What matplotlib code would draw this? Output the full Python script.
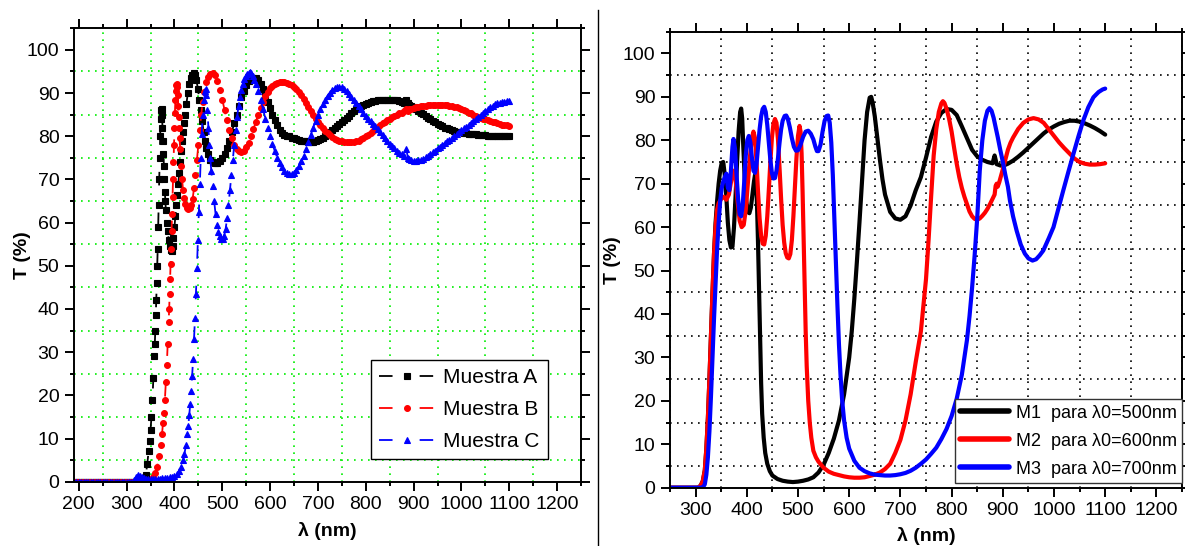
import matplotlib
matplotlib.use("Agg")
import matplotlib.pyplot as plt
from matplotlib.ticker import MultipleLocator
from matplotlib.lines import Line2D

# ---- Transmittance spectra, (wavelength nm, T %) ----
muestra_a = [
    (190, 0), (195, 0), (200, 0), (205, 0), (210, 0), (215, 0), (220, 0), (225, 0), (230, 0), (235, 0),
    (240, 0), (245, 0), (250, 0), (255, 0), (260, 0), (265, 0), (270, 0), (275, 0), (280, 0), (285, 0),
    (290, 0), (295, 0), (300, 0), (305, 0), (310, 0), (315, 0), (320, 0), (325, 0), (330, 0),
    (335, 0.3), (340, 1.5), (343, 4), (346, 7), (348, 9.5),
    (350, 12), (352, 15), (354, 19), (356, 24), (358, 29), (359, 32), (360, 35), (361, 38.5), (362, 42), (363, 46),
    (364, 50), (365, 54), (366, 59), (367, 64), (368, 70), (369, 75), (370, 80), (371, 84), (372, 86), (373, 86.2),
    (374, 85), (375, 82), (376, 79), (377, 76), (378, 73), (379, 70), (380, 67), (381, 65), (382, 63), (384, 60),
    (386, 58), (388, 56), (390, 54.5), (392, 53.6), (394, 53.5), (396, 54.5), (398, 56.5), (400, 59), (402, 61.5),
    (404, 64), (406, 66.5), (408, 69), (410, 71.5), (412, 74), (414, 76.5), (416, 79), (418, 81), (420, 83),
    (422, 85), (425, 87.5), (428, 90), (431, 92), (434, 93.5), (437, 94.3), (440, 94.6), (443, 94.3), (446, 93),
    (449, 91), (452, 88.5), (455, 86), (458, 83.5), (461, 81), (464, 79), (467, 77.3), (470, 76), (475, 74.6),
    (480, 74), (485, 73.7), (490, 73.7), (495, 74.2), (500, 75), (505, 76), (510, 77.3), (515, 79), (520, 81),
    (525, 83), (530, 85), (535, 87), (540, 89), (545, 90.5), (550, 91.8), (555, 92.7), (560, 93.3), (565, 93.6),
    (570, 93.5), (575, 93), (580, 92.2), (585, 91), (590, 89.5), (595, 88), (600, 86.5), (605, 85), (610, 83.7),
    (615, 82.5), (620, 81.5), (625, 80.8), (630, 80.3), (635, 80.1), (640, 80), (645, 79.7), (650, 79.5),
    (655, 79.3), (660, 79.1), (665, 79), (670, 78.9), (675, 78.8), (680, 78.7), (685, 78.7), (690, 78.7),
    (695, 78.9), (700, 79.1), (705, 79.4), (710, 79.7), (715, 80.1), (720, 80.5), (725, 80.9), (730, 81.4),
    (735, 81.9), (740, 82.4), (745, 82.9), (750, 83.4), (755, 83.8), (760, 84.3), (765, 84.8), (770, 85.3),
    (775, 85.8), (780, 86.2), (785, 86.6), (790, 86.9), (795, 87.2), (800, 87.5), (805, 87.7), (810, 87.9),
    (815, 88.1), (820, 88.2), (825, 88.3), (830, 88.4), (835, 88.5), (840, 88.5), (845, 88.5), (850, 88.5),
    (855, 88.5), (860, 88.4), (865, 88.3), (870, 88.1), (875, 87.9), (880, 87.7), (885, 88.4), (888, 87.6),
    (890, 87.3), (895, 87), (900, 86.7), (905, 86.3), (910, 85.9), (915, 85.5), (920, 85.1), (925, 84.7),
    (930, 84.3), (935, 84), (940, 83.6), (945, 83.2), (950, 82.9), (955, 82.6), (960, 82.3), (965, 82),
    (970, 81.8), (975, 81.6), (980, 81.4), (985, 81.2), (990, 81.1), (995, 81), (1000, 80.9), (1005, 80.8),
    (1010, 80.7), (1015, 80.6), (1020, 80.6), (1025, 80.5), (1030, 80.5), (1035, 80.4), (1040, 80.3),
    (1045, 80.2), (1050, 80.2), (1055, 80.1), (1060, 80.1), (1065, 80), (1070, 80), (1075, 80), (1080, 80),
    (1085, 80), (1090, 80), (1095, 80), (1100, 80),
]

muestra_b = [
    (190, 0), (195, 0), (200, 0), (205, 0), (210, 0), (215, 0), (220, 0), (225, 0), (230, 0), (235, 0),
    (240, 0), (245, 0), (250, 0), (255, 0), (260, 0), (265, 0), (270, 0), (275, 0), (280, 0), (285, 0),
    (290, 0), (295, 0), (300, 0), (305, 0), (310, 0), (315, 0), (320, 0), (325, 0), (330, 0), (335, 0),
    (340, 0), (345, 0.2), (350, 0.5), (355, 1), (360, 2),
    (364, 3.5), (368, 6), (371, 8.5), (374, 11), (376, 13.5), (378, 16), (380, 19), (382, 23), (384, 27), (386, 32),
    (388, 37), (389, 40), (390, 43.5), (391, 47), (392, 50.5), (393, 54), (394, 58), (395, 62), (396, 66), (397, 70),
    (398, 74), (399, 78), (400, 82), (401, 85.5), (402, 88.5), (403, 90.5), (404, 91.8), (405, 92), (406, 91.3),
    (407, 89.5), (408, 87), (409, 84.5), (410, 82), (411, 79.5), (412, 77), (414, 73), (416, 70), (418, 67.5),
    (420, 65.8), (423, 64.3), (426, 63.5), (429, 63.2), (432, 63.3), (435, 64), (438, 65.5), (441, 68), (444, 71),
    (447, 74.5), (450, 78), (453, 81.5), (456, 85), (459, 88), (462, 90.3), (466, 92.5), (470, 93.8), (475, 94.5),
    (480, 94.6), (485, 94.2), (490, 92.8), (495, 90.8), (500, 88.5), (505, 86), (510, 83.7), (515, 81.5),
    (520, 79.6), (525, 78), (530, 77), (535, 76.5), (540, 76.4), (545, 76.7), (550, 77.4), (555, 78.5), (560, 80),
    (565, 81.6), (570, 83.3), (575, 85), (580, 86.6), (585, 88), (590, 89.3), (595, 90.3), (600, 91.1),
    (605, 91.7), (610, 92.1), (615, 92.4), (620, 92.5), (625, 92.6), (630, 92.5), (635, 92.4), (640, 92.2),
    (645, 91.9), (650, 91.5), (655, 91), (660, 90.3), (665, 89.5), (670, 88.6), (675, 87.7), (680, 86.8),
    (685, 85.8), (690, 84.9), (695, 84.1), (700, 83.3), (705, 82.6), (710, 81.9), (715, 81.3), (720, 80.7),
    (725, 80.2), (730, 79.8), (735, 79.4), (740, 79.1), (745, 78.9), (750, 78.8), (755, 78.7), (760, 78.6),
    (765, 78.6), (770, 78.6), (775, 78.7), (780, 78.8), (785, 79), (790, 79.3), (795, 79.6), (800, 80),
    (805, 80.4), (810, 80.8), (815, 81.2), (820, 81.7), (825, 82.1), (830, 82.6), (835, 83), (840, 83.4),
    (845, 83.8), (850, 84.1), (855, 84.4), (860, 84.7), (865, 85), (870, 85.3), (875, 85.5), (880, 85.8),
    (885, 86.4), (888, 85.9), (890, 86.2), (895, 86.3), (900, 86.5), (905, 86.7), (910, 86.8), (915, 86.9),
    (920, 87), (925, 87.1), (930, 87.2), (935, 87.2), (940, 87.3), (945, 87.3), (950, 87.3), (955, 87.3),
    (960, 87.3), (965, 87.2), (970, 87.2), (975, 87.1), (980, 87), (985, 86.8), (990, 86.7), (995, 86.5),
    (1000, 86.3), (1005, 86), (1010, 85.8), (1015, 85.5), (1020, 85.3), (1025, 85), (1030, 84.8), (1035, 84.5),
    (1040, 84.3), (1045, 84.1), (1050, 83.9), (1055, 83.7), (1060, 83.5), (1065, 83.3), (1070, 83.2),
    (1075, 83), (1080, 82.9), (1085, 82.7), (1090, 82.6), (1095, 82.5), (1100, 82.4),
]

muestra_c = [
    (190, 0), (195, 0), (200, 0), (205, 0), (210, 0), (215, 0), (220, 0), (225, 0), (230, 0), (235, 0),
    (240, 0), (245, 0), (250, 0), (255, 0), (260, 0), (265, 0), (270, 0), (275, 0), (280, 0), (285, 0),
    (290, 0), (295, 0), (300, 0), (305, 0), (310, 0), (315, 0.3), (320, 1.0), (324, 1.5), (328, 1.4),
    (332, 1.0), (336, 0.8), (340, 0.7), (345, 0.6), (350, 0.6), (355, 0.6), (360, 0.6), (365, 0.65),
    (370, 0.7), (375, 0.75), (380, 0.8), (385, 0.9), (390, 1.0), (395, 1.2), (400, 1.4), (405, 1.8), (410, 2.5),
    (414, 3.5), (418, 5), (421, 6.5), (424, 8.5), (427, 11), (429, 13), (431, 15.5), (433, 18), (435, 21),
    (437, 24.5), (439, 28.5), (441, 33), (443, 38), (445, 43.5), (447, 49.5), (449, 56), (451, 62.5), (453, 69),
    (455, 75), (457, 80.5), (459, 85), (461, 88.5), (463, 90.5), (465, 91), (467, 89.5), (469, 86), (471, 82),
    (473, 78), (475, 75), (477, 72), (480, 68.5), (483, 65), (486, 62), (489, 59.5), (492, 57.8), (495, 56.8),
    (498, 56.3), (501, 56.3), (504, 57), (507, 58.5), (510, 61), (513, 64), (516, 67.5), (519, 71), (522, 74.5),
    (525, 78), (528, 81.5), (531, 84.5), (534, 87), (537, 89), (540, 90.8), (543, 92.2), (546, 93.3), (549, 94),
    (552, 94.5), (555, 94.7), (558, 94.8), (561, 94.7), (564, 94), (567, 93), (570, 92), (575, 90.5), (580, 88.5),
    (585, 86.3), (590, 84), (595, 82), (600, 80), (605, 78.2), (610, 76.5), (615, 75), (620, 73.8), (625, 72.8),
    (630, 72), (635, 71.4), (640, 71.2), (645, 71.3), (650, 71.6), (655, 72.2), (660, 73), (665, 74.2),
    (670, 75.5), (675, 77), (680, 78.6), (685, 80.3), (690, 82), (695, 83.5), (700, 85), (705, 86.3),
    (710, 87.5), (715, 88.5), (720, 89.4), (725, 90.1), (730, 90.7), (735, 91.1), (740, 91.4), (745, 91.5),
    (750, 91.3), (755, 90.9), (760, 90.5), (765, 89.9), (770, 89.2), (775, 88.5), (780, 87.8), (785, 87),
    (790, 86.2), (795, 85.4), (800, 84.6), (805, 84.1), (810, 83.5), (815, 82.9), (820, 82.3), (825, 81.7),
    (830, 81), (835, 80.3), (840, 79.6), (845, 78.9), (850, 78.3), (855, 77.7), (860, 77.2), (865, 76.7),
    (870, 76.2), (875, 75.8), (880, 75.4), (885, 77), (888, 75), (890, 74.7), (895, 74.5), (900, 74.3),
    (905, 74.3), (910, 74.4), (915, 74.6), (920, 74.8), (925, 75.1), (930, 75.5), (935, 75.9), (940, 76.3),
    (945, 76.7), (950, 77.2), (955, 77.6), (960, 78), (965, 78.4), (970, 78.8), (975, 79.2), (980, 79.7),
    (985, 80.1), (990, 80.5), (995, 81), (1000, 81.4), (1005, 81.8), (1010, 82.2), (1015, 82.6), (1020, 83.1),
    (1025, 83.5), (1030, 84), (1035, 84.4), (1040, 84.9), (1045, 85.3), (1050, 85.8), (1055, 86.2),
    (1060, 86.7), (1065, 87.1), (1070, 87.4), (1075, 87.6), (1080, 87.8), (1085, 87.9), (1090, 88),
    (1095, 88.1), (1100, 88.1),
]

m1_500 = [
    (250, 0), (260, 0), (270, 0), (280, 0), (290, 0), (300, 0), (305, 0), (310, 0.5), (314, 1.5), (318, 4),
    (321, 9), (324, 16), (327, 25), (330, 35), (333, 45), (336, 54), (339, 61), (342, 66), (345, 70), (348, 73),
    (351, 74.8), (354, 75), (357, 72), (360, 67), (363, 61), (366, 57), (369, 55.3), (372, 55.5), (375, 60),
    (378, 67), (381, 75), (384, 82), (387, 86.5), (389, 87.3), (391, 85), (393, 79), (396, 71), (399, 66),
    (402, 63.5), (405, 63.2), (408, 64.5), (411, 67.5), (414, 70.5), (416, 72), (418, 71), (420, 65), (422, 56),
    (424, 45), (426, 33), (428, 24), (430, 17), (433, 11.5), (436, 8), (440, 5.5), (445, 3.8), (450, 2.8),
    (460, 2), (470, 1.6), (480, 1.4), (490, 1.3), (500, 1.4), (510, 1.6), (520, 1.9), (530, 2.4), (540, 3.5),
    (550, 5.3), (560, 8), (570, 11.3), (580, 15.5), (590, 21.5), (600, 30), (605, 36), (610, 43.5), (615, 52),
    (620, 61), (625, 70.5), (630, 80), (635, 86.5), (640, 89.8), (643, 90), (646, 88.5), (650, 85.5),
    (655, 80.5), (660, 75.5), (665, 71), (670, 67.5), (680, 63.5), (690, 62), (700, 61.7), (710, 62.5),
    (720, 65), (730, 68.5), (740, 71.5), (750, 76), (760, 80.8), (770, 84.3), (780, 86.3), (790, 87.2),
    (800, 87), (810, 85.8), (820, 83.2), (830, 80.5), (840, 77.8), (850, 76.3), (860, 75.5), (870, 75),
    (880, 74.7), (884, 76.5), (888, 74.5), (895, 74.2), (900, 74.1), (910, 74.6), (920, 75.3), (930, 76.2),
    (940, 77.2), (950, 78.3), (960, 79.4), (970, 80.5), (980, 81.6), (990, 82.5), (1000, 83.2), (1010, 83.8),
    (1020, 84.2), (1030, 84.5), (1040, 84.5), (1050, 84.3), (1060, 83.9), (1070, 83.4), (1080, 82.8),
    (1090, 82.1), (1100, 81.3),
]

m2_600 = [
    (250, 0), (260, 0), (270, 0), (280, 0), (290, 0), (300, 0), (305, 0), (310, 0.5), (314, 1.5), (318, 4),
    (321, 9), (324, 16), (327, 25), (330, 35), (333, 45), (336, 54), (339, 60), (342, 64), (345, 65.5),
    (350, 66.5), (355, 67), (360, 66.3), (365, 67.5), (370, 71), (374, 73), (378, 71), (382, 66), (386, 61.5),
    (390, 60), (394, 60.5), (398, 64), (402, 70), (406, 76), (410, 80.5), (413, 82), (416, 80.5), (419, 75),
    (422, 68), (425, 62), (428, 58), (431, 56.2), (434, 56), (437, 58), (440, 62.5), (443, 68.5), (446, 75),
    (449, 80.5), (452, 83.8), (455, 84.9), (458, 84), (461, 80), (464, 73.5), (467, 66.5), (470, 60.5),
    (473, 56.5), (476, 54), (479, 53), (482, 52.8), (485, 53.8), (488, 57), (491, 62.5), (494, 69.5), (497, 76),
    (500, 81), (503, 83.3), (505, 82), (507, 77), (509, 68), (511, 57), (513, 46), (515, 36), (517, 28),
    (520, 20), (523, 15), (526, 11.5), (530, 8.5), (535, 7), (540, 6), (550, 4.6), (560, 3.7), (570, 3.2),
    (580, 2.9), (590, 2.6), (600, 2.4), (610, 2.3), (620, 2.3), (630, 2.4), (640, 2.7), (650, 3), (660, 3.5),
    (670, 4.3), (680, 5.5), (690, 8), (700, 11), (710, 15.5), (720, 21.5), (730, 29), (740, 36), (745, 42),
    (750, 48), (755, 57), (760, 67), (765, 76.5), (770, 82.5), (775, 86.5), (780, 88.5), (783, 89), (786, 88.6),
    (790, 87.3), (795, 85), (800, 82), (805, 78.2), (810, 74.6), (815, 71.5), (820, 69), (825, 67), (830, 65.3),
    (835, 63.6), (840, 62.5), (845, 61.9), (850, 61.7), (855, 62), (860, 62.6), (865, 63.3), (870, 64.2),
    (875, 65.3), (880, 66.5), (884, 67.5), (886, 69.5), (888, 70), (890, 69.3), (893, 70.3), (897, 72),
    (900, 73.3), (905, 75.6), (910, 77.8), (915, 79.4), (920, 80.6), (930, 82.6), (940, 84), (950, 84.8),
    (960, 85.1), (970, 84.8), (980, 84), (990, 82.5), (1000, 81), (1010, 79.5), (1020, 78.2), (1030, 77),
    (1040, 75.8), (1050, 75), (1060, 74.6), (1070, 74.4), (1080, 74.4), (1090, 74.5), (1100, 74.7),
]

m3_700 = [
    (250, 0), (260, 0), (270, 0), (280, 0), (290, 0), (300, 0), (310, 0), (315, 0.2), (318, 0.8), (321, 3),
    (324, 7), (327, 13), (330, 21), (333, 30), (336, 39), (339, 47), (342, 55), (345, 61), (348, 66), (351, 69),
    (354, 70.5), (357, 71.5), (360, 72.3), (363, 69), (366, 68.5), (369, 73), (372, 78.5), (374, 80.3), (377, 78),
    (380, 72), (383, 66.5), (386, 63), (389, 62.5), (392, 65), (395, 70.5), (398, 76.5), (401, 80), (404, 81),
    (407, 79.5), (410, 76), (413, 73), (416, 72.5), (419, 74.5), (422, 78.5), (425, 82.5), (428, 85.5),
    (431, 87.2), (434, 87.7), (437, 86.5), (440, 83.5), (443, 79.5), (446, 75.5), (449, 72.5), (452, 71.2),
    (455, 71.3), (458, 73), (461, 76), (464, 79.5), (467, 82.5), (470, 84.5), (474, 85.6), (477, 85.7), (480, 85),
    (484, 83), (488, 80.5), (492, 78.5), (496, 77.6), (500, 77.7), (505, 79), (510, 80.8), (515, 82), (520, 82.2),
    (525, 81.5), (530, 80.2), (534, 78.5), (537, 77.5), (540, 77.5), (544, 79), (548, 82), (552, 84.5),
    (556, 85.6), (559, 85.7), (562, 84), (565, 79.5), (568, 72), (571, 62), (574, 52), (577, 42), (580, 33),
    (583, 26), (586, 20.5), (590, 15.5), (595, 11.5), (600, 9), (610, 6.2), (620, 4.6), (630, 3.8), (640, 3.3),
    (650, 3), (660, 2.9), (670, 2.8), (680, 2.8), (690, 2.9), (700, 3.1), (710, 3.4), (720, 3.9), (730, 4.6),
    (740, 5.5), (750, 6.5), (760, 7.8), (770, 9.2), (780, 11.2), (790, 13.5), (800, 16.5), (810, 20.5),
    (820, 26), (830, 34), (835, 39.5), (840, 46), (845, 53.5), (850, 62), (855, 73), (860, 80), (865, 84.5),
    (870, 86.8), (874, 87.4), (878, 86.8), (882, 85.2), (886, 83), (890, 80.8), (895, 77.8), (900, 75.1),
    (905, 72), (910, 69.3), (914, 66.1), (920, 62.5), (927, 59.2), (935, 56), (943, 53.9), (950, 52.8),
    (958, 52.3), (965, 52.6), (972, 53.5), (979, 54.6), (990, 57.5), (999, 60), (1008, 64), (1018, 68.4),
    (1028, 72.7), (1038, 76.9), (1048, 81), (1057, 84.5), (1067, 87.6), (1077, 89.9), (1087, 91.1),
    (1095, 91.7), (1100, 91.9),
]

left_labels = ["Muestra A", "Muestra B", "Muestra C"]
right_labels = ["M1  para λ0=500nm", "M2  para λ0=600nm", "M3  para λ0=700nm"]
x_label = "λ (nm)"
y_label = "T (%)"

FONT = ["Liberation Sans", "DejaVu Sans"]
plt.rcParams["font.family"] = FONT

W, H = 1185, 546
fig = plt.figure(figsize=(W / 100, H / 100), dpi=100)
fig.patch.set_facecolor("white")

ax1 = fig.add_axes([74 / W, (H - 481.7) / H, 507 / W, 453.4 / H])
ax2 = fig.add_axes([670 / W, (H - 487.7) / H, 512 / W, 456 / H])


def style_axes(ax, xlim, grid_color):
    ax.set_xlim(*xlim)
    ax.set_ylim(0, 105)
    ax.xaxis.set_major_locator(MultipleLocator(100))
    ax.xaxis.set_minor_locator(MultipleLocator(50))
    ax.yaxis.set_major_locator(MultipleLocator(10))
    ax.yaxis.set_minor_locator(MultipleLocator(5))
    ax.tick_params(which="both", direction="out", top=True, right=True,
                   width=1.4, labelsize=14, pad=4, colors="black")
    ax.tick_params(which="major", length=6.5)
    ax.tick_params(which="minor", length=3)
    ax.grid(which="minor", color=grid_color, ls=(0, (1, 3.2)), lw=1.2)
    ax.set_axisbelow(True)
    for s in ax.spines.values():
        s.set_linewidth(1.4)


style_axes(ax1, (190, 1250), "#00ee00")
style_axes(ax2, (250, 1250), "black")

# left panel: measured curves with markers
dash = (0, (7.5, 15))
for series, color, marker, ms, lab in [
    (muestra_a, "black", "s", 3.8, left_labels[0]),
    (muestra_b, "red", "o", 4.2, left_labels[1]),
    (muestra_c, "blue", "^", 4.6, left_labels[2]),
]:
    wl = [p[0] for p in series]
    t = [p[1] for p in series]
    ax1.plot(wl, t, color=color, ls=dash, lw=1.3, marker=marker, ms=ms,
             mec=color, mfc=color, mew=0.8, label=lab)

# right panel: simulated multilayer spectra
for series, color, lab in [
    (m1_500, "black", right_labels[0]),
    (m2_600, "red", right_labels[1]),
    (m3_700, "blue", right_labels[2]),
]:
    wl = [p[0] for p in series]
    t = [p[1] for p in series]
    ax2.plot(wl, t, color=color, lw=3.0, solid_capstyle="round", label=lab)

leg1 = ax1.legend(loc="lower left", bbox_to_anchor=(0.585, 0.05), fontsize=15,
                  handlelength=2.74, handletextpad=0.37, borderpad=0.38,
                  labelspacing=0.62, fancybox=False, edgecolor="black",
                  framealpha=1, borderaxespad=0)
leg1.get_frame().set_linewidth(1.0)

leg2 = ax2.legend(loc="lower right", bbox_to_anchor=(1.0, 0.0103), fontsize=13,
                  handlelength=2.7, handletextpad=0.37, borderpad=0.3,
                  labelspacing=0.61, fancybox=False, edgecolor="#333333",
                  framealpha=1, borderaxespad=0)
leg2.get_frame().set_linewidth(1.0)
for ln in leg2.get_lines():
    ln.set_linewidth(4)

for ax, ylx, xly in [(ax1, -0.085, -0.089), (ax2, -0.096, -0.086)]:
    ax.set_xlabel(x_label, fontsize=14, fontweight="bold")
    ax.set_ylabel(y_label, fontsize=14, fontweight="bold")
    ax.xaxis.set_label_coords(0.5, xly)
    ax.yaxis.set_label_coords(ylx, 0.5)

# divider between the two panels
fig.add_artist(Line2D([598.3 / W, 598.3 / W], [0, (H - 10) / H],
                      transform=fig.transFigure, color="black", lw=1.0))

fig.savefig("out.png", dpi=100, facecolor="white")
